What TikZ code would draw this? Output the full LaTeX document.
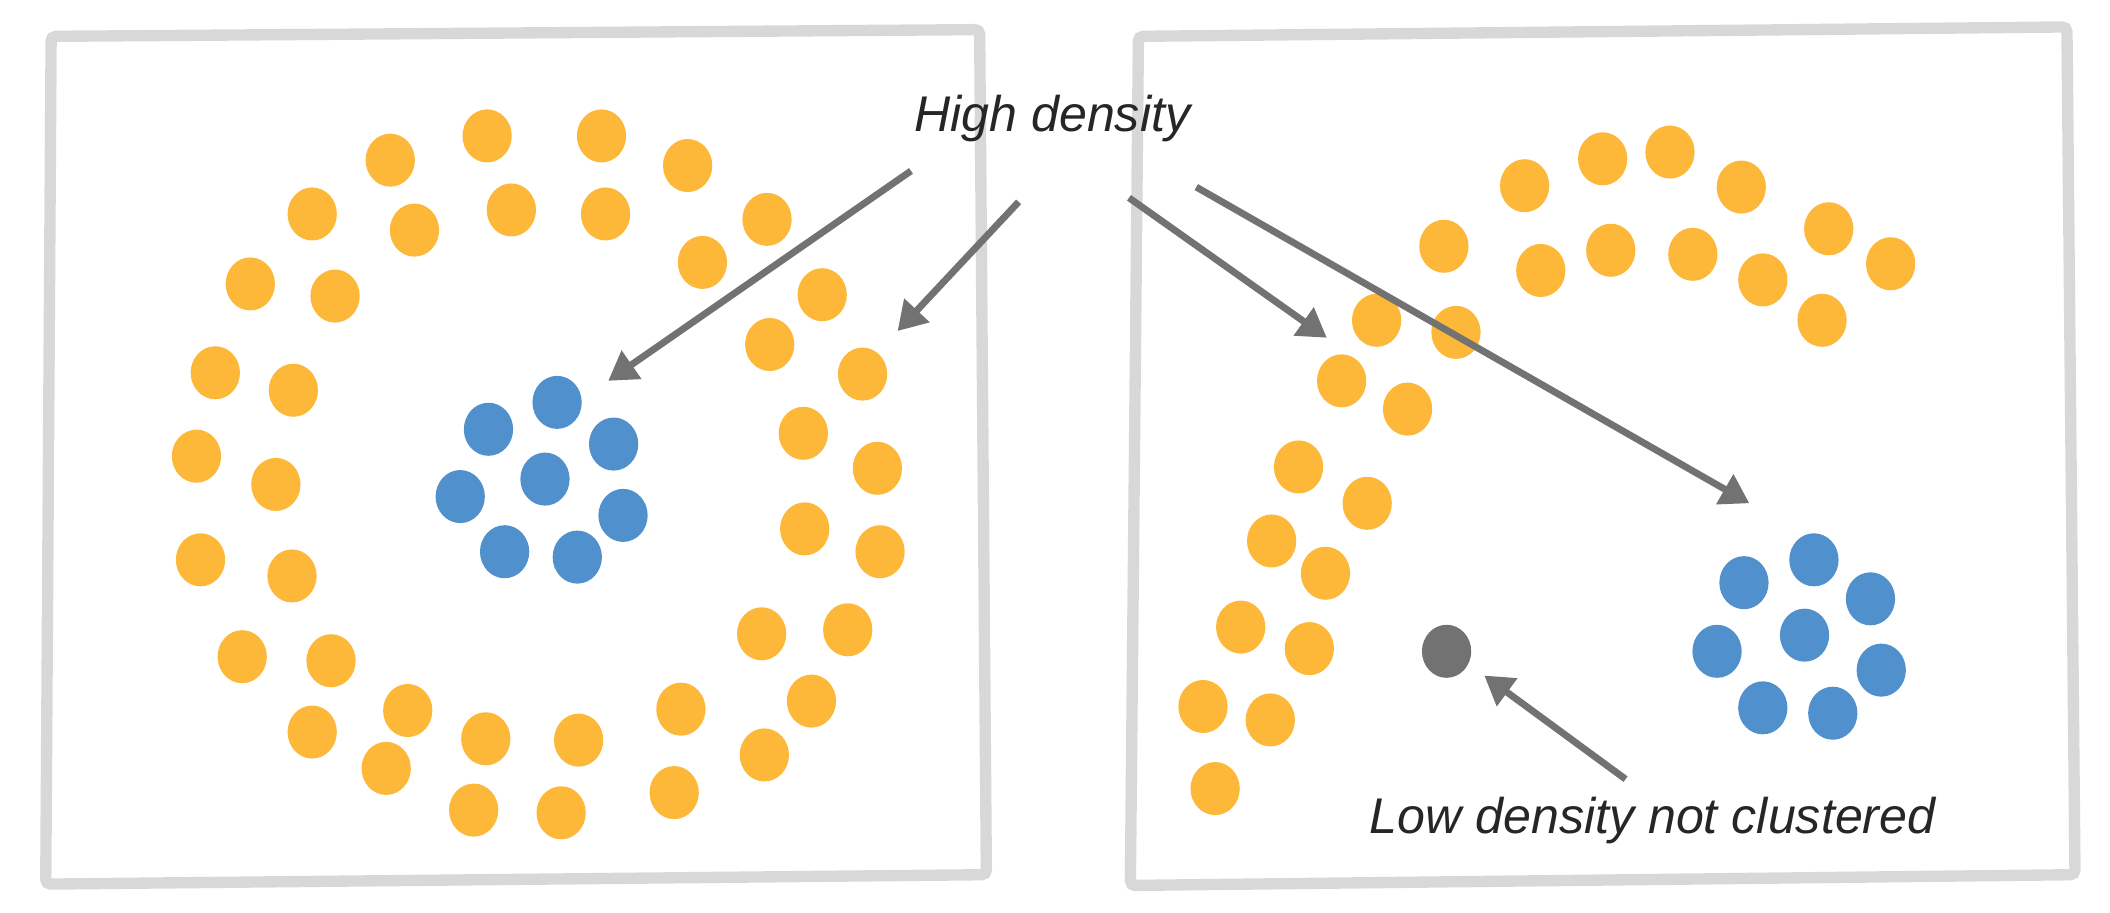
\documentclass[tikz,border=0pt]{standalone}
\usepackage{fontspec}
\setmainfont{Liberation Sans}
\usetikzlibrary{arrows.meta}
\definecolor{ptorange}{HTML}{FDB83A}
\definecolor{ptblue}{HTML}{5090CC}
\definecolor{ptgray}{HTML}{727272}
\definecolor{framegray}{HTML}{D8D8D8}
\definecolor{arrowgray}{HTML}{727272}
\definecolor{labelgray}{HTML}{262626}
\begin{document}
\begin{tikzpicture}[x=0.01cm, y=-0.01cm,
  every node/.style={font=\fontsize{10.6}{12.7}\selectfont\itshape, text=labelgray},
  frame/.style={draw=framegray, line width=2.4pt, rounded corners=1pt},
  pointer/.style={draw=arrowgray, line width=1.45pt, -{Triangle[length=6pt,width=7pt]}}]
  \useasboundingbox (0,0) rectangle (1568,678);
  % hand-drawn panels
  \draw[frame] (38,27) -- (728,22) -- (733,650) -- (34,657) -- cycle;
  \draw[frame] (846,27) -- (1536,20) -- (1542,650) -- (840,658) -- cycle;
  % left panel: ring and core
  \foreach \px/\py in {290/119,362/101,447/101,511/123,570/163,
      232/159,308/171,380/156,450/159,522/195,
      186/211,249/220,611/219,572/256,
      160/277,218/290,641/278,597/322,
      146/339,205/360,652/348,598/393,
      149/416,217/428,654/410,
      180/488,246/491,566/471,630/468,
      232/544,303/528,361/549,430/550,506/527,603/521,
      287/571,352/602,417/604,501/589,568/561}
    \fill[ptorange] (\px,\py) ellipse [x radius=0.183cm, y radius=0.197cm];
  \foreach \px/\py in {414/299,363/319,456/330,405/356,342/369,463/383,375/410,429/414}
    \fill[ptblue] (\px,\py) ellipse [x radius=0.183cm, y radius=0.197cm];
  % right panel: arc, blob and the outlier
  \foreach \px/\py in {1133/138,1191/118,1241/113,1294/139,
      1073/183,1145/201,1197/186,1258/189,1310/208,1359/170,1405/196,1354/238,
      1023/238,1082/247,997/283,1046/304,965/347,1016/374,945/402,985/426,
      922/466,973/482,894/525,944/535,903/586}
    \fill[ptorange] (\px,\py) ellipse [x radius=0.183cm, y radius=0.197cm];
  \foreach \px/\py in {1348/416,1296/433,1390/445,1341/472,1276/484,1398/498,1310/526,1362/530}
    \fill[ptblue] (\px,\py) ellipse [x radius=0.183cm, y radius=0.197cm];
  \fill[ptgray] (1075,484) ellipse [x radius=0.183cm, y radius=0.197cm];
  % labels
  \node (high) at (782,88) {High density};
  \node (low) at (1228,610) {Low density not clustered};
  % arrow ends
  \coordinate (h1s) at (677,127);
  \coordinate (h1e) at (452,283);
  \coordinate (h2s) at (757,150);
  \coordinate (h2e) at (667,246);
  \coordinate (h3s) at (839,147);
  \coordinate (h3e) at (986,251);
  \coordinate (h4s) at (889,139);
  \coordinate (h4e) at (1300,374);
  \coordinate (l1s) at (1208,579);
  \coordinate (l1e) at (1103,502);
  \draw[pointer] (h1s) -- (h1e);
  \draw[pointer] (h2s) -- (h2e);
  \draw[pointer] (h3s) -- (h3e);
  \draw[pointer] (h4s) -- (h4e);
  \draw[pointer] (l1s) -- (l1e);
\end{tikzpicture}
\end{document}
